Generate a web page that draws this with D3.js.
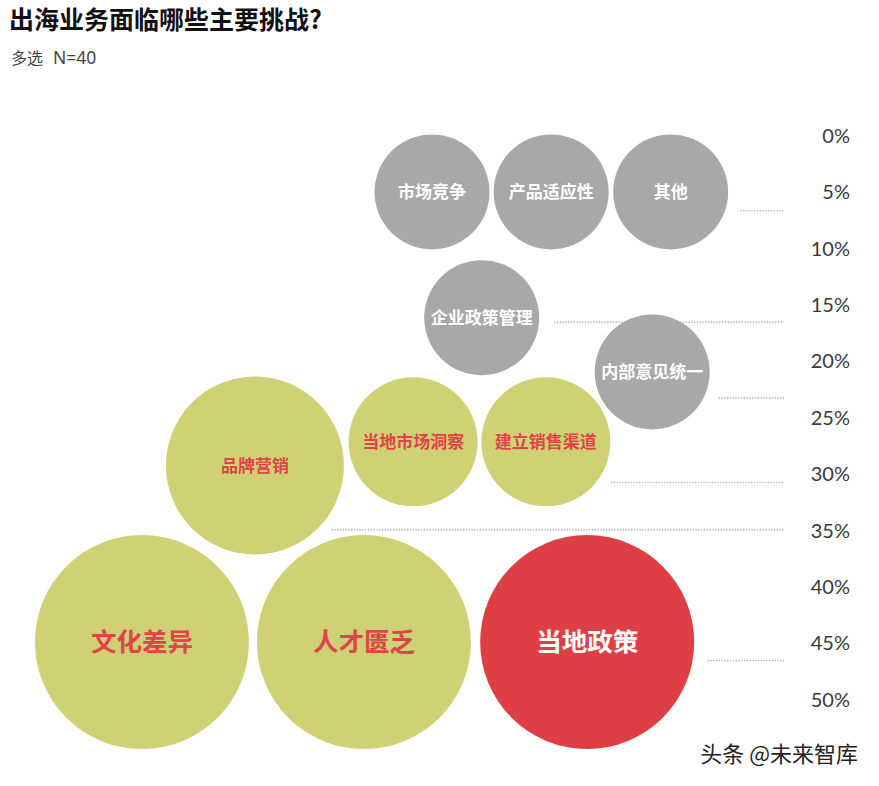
<!DOCTYPE html>
<html>
<head>
<meta charset="utf-8">
<script src="https://cdn.jsdelivr.net/npm/d3@7"></script>
<style>
  html, body { margin: 0; padding: 0; background: #fff; }
  svg { display: block; }
</style>
</head>
<body>
<svg id="chart" width="879" height="786"></svg>
<script>
// ---- data ----
const title = "出海业务面临哪些主要挑战?";
const subtitleA = "多选";
const subtitleB = "N=40";
const source = "头条 @未来智库";
const categories = ["市场竞争", "产品适应性", "其他", "企业政策管理", "内部意见统一",
                    "品牌营销", "当地市场洞察", "建立销售渠道", "文化差异", "人才匮乏", "当地政策"];
const values = [6.7, 6.7, 6.7, 16.6, 23.3, 35.0, 30.8, 30.8, 46.6, 46.6, 46.6];
const tickValues = [0, 5, 10, 15, 20, 25, 30, 35, 40, 45, 50];
const highlight = "当地政策";

// ---- layout (bubble anchor in chart units: x in 0..100 layout units, y in % units) ----
const layoutX = [49.15, 62.7, 76.3, 54.8, 74.2, 29.0, 47.0, 62.1, 16.15, 41.4, 66.8];
const layoutY = [5.05, 5.05, 5.05, 16.2, 21.0, 29.3, 27.2, 27.2, 44.95, 44.95, 44.95];

const W = 879, H = 786;
const svg = d3.select("#chart");

const y = d3.scaleLinear().domain([0, 50]).range([135, 699]);
const x = d3.scaleLinear().domain([0, 100]).range([0, W]);
const r = d3.scaleLinear().domain([0, 25, 30.8, 35, 46.6]).range([57.5, 57.5, 64.5, 89, 107]);

const colors = { low: "#a8a7a9", mid: "#d0d175", hi: "#de3f44" };
const fillOf = d => d.cat === highlight ? colors.hi : (d.val < 25 ? colors.low : colors.mid);
const textOf = d => d.cat === highlight ? "#ffffff" : (d.val < 25 ? "#ffffff" : "#e1434a");

const data = categories.map((c, i) => ({
  cat: c, val: values[i], cx: x(layoutX[i]), cy: y(layoutY[i]), r: r(values[i])
}));

// title
svg.append("text").attr("x", 9).attr("y", 29)
  .attr("font-family", "'Noto Sans CJK SC', sans-serif").attr("font-weight", 700)
  .attr("font-size", 25).attr("fill", "#111").text(title);
const sub = svg.append("text").attr("y", 64).attr("fill", "#444");
sub.append("tspan").attr("x", 11)
  .attr("font-family", "'Noto Sans CJK SC', sans-serif").attr("font-size", 16).text(subtitleA);
sub.append("tspan").attr("x", 53)
  .attr("font-family", "'Noto Sans', sans-serif").attr("font-size", 17.5).text(subtitleB);

// axis on the right
const axisX = 850;
const axis = d3.axisLeft(y).tickValues(tickValues).tickSize(0).tickPadding(0).tickFormat(d => d + "%");
const ag = svg.append("g").attr("transform", `translate(${axisX},0)`).call(axis);
ag.select(".domain").remove();
ag.selectAll("text")
  .attr("font-family", "Lato, 'Noto Sans', sans-serif")
  .attr("font-size", 20).attr("fill", "#3a3a3a").attr("dy", "0.36em");

// dotted leader lines: one per distinct value, starting from the rightmost bubble
const lineEnd = 784;
const groups = d3.groups(data, d => d.val);
const leaders = groups.map(([v, arr]) => {
  const b = arr.reduce((a, c) => (c.cx > a.cx ? c : a));
  const ly = y(v);
  const dy = Math.abs(ly - b.cy);
  const half = dy < b.r ? Math.sqrt(b.r * b.r - dy * dy) : 0;
  return { v, x1: b.cx + half + 15, y: ly };
});
svg.append("g").selectAll("line").data(leaders).join("line")
  .attr("x1", d => d.x1).attr("x2", lineEnd)
  .attr("y1", d => d.y).attr("y2", d => d.y)
  .attr("stroke", "#b0b0b0").attr("stroke-width", 1.4)
  .attr("stroke-dasharray", "1.3,1.5");

// bubbles
const bg = svg.append("g").selectAll("g").data(data).join("g")
  .attr("transform", d => `translate(${d.cx},${d.cy})`);
bg.append("circle").attr("r", d => d.r).attr("fill", fillOf);
bg.append("text")
  .attr("text-anchor", "middle").attr("dy", "0.36em")
  .attr("font-family", "'Noto Sans CJK SC', sans-serif").attr("font-weight", 700)
  .attr("font-size", d => d.r > 100 ? 25.5 : 17)
  .attr("fill", textOf).text(d => d.cat);

// source watermark
svg.append("text").attr("x", 858).attr("y", 762).attr("text-anchor", "end")
  .attr("font-family", "'Noto Sans CJK SC', sans-serif")
  .attr("font-size", 22).attr("fill", "#222").text(source);
</script>
</body>
</html>
